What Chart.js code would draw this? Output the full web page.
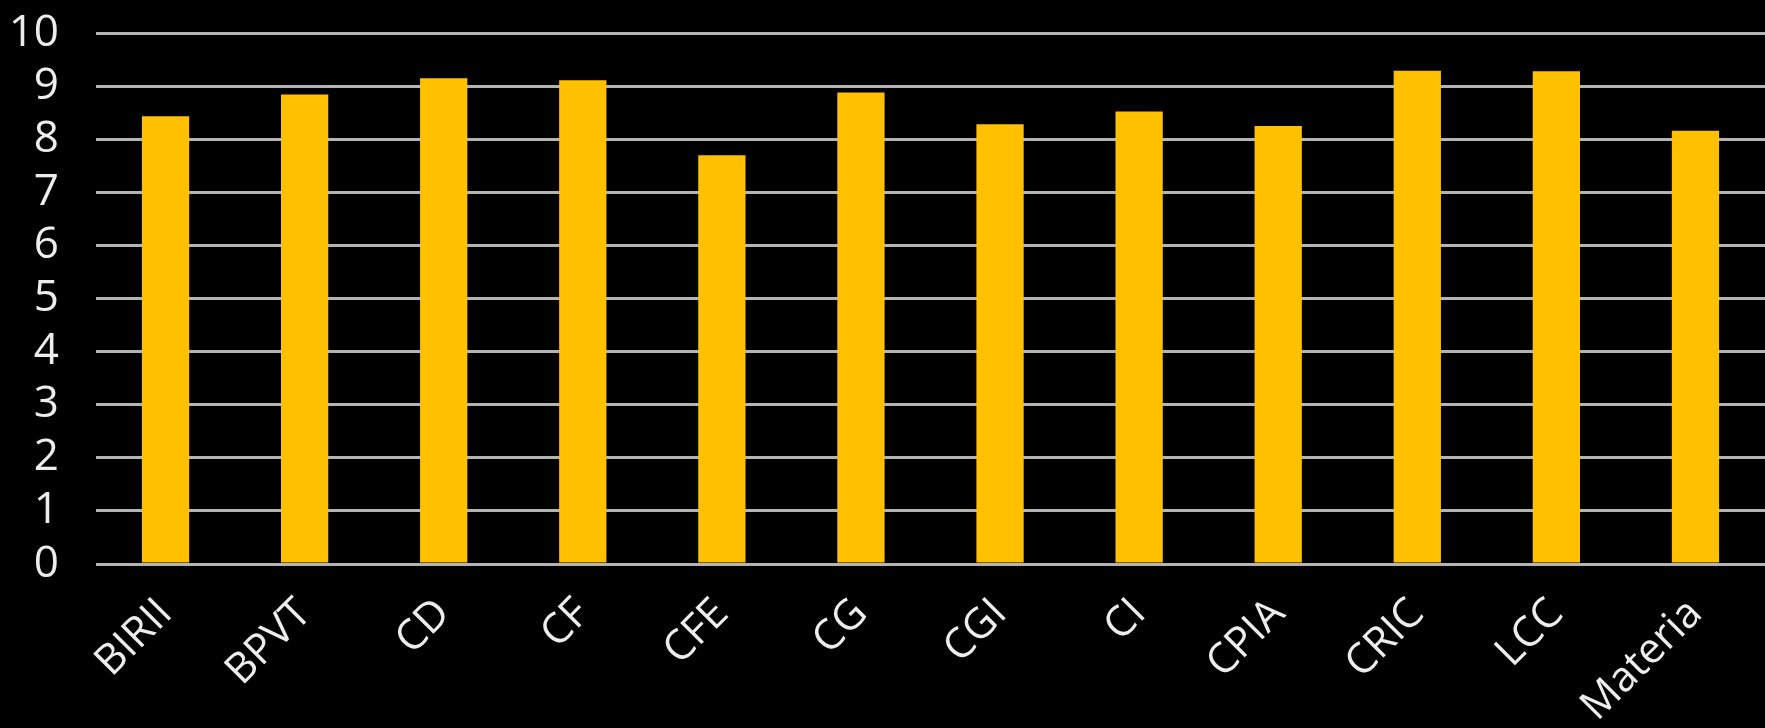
<!DOCTYPE html>
<html>
<head>
<meta charset="utf-8">
<script src="https://cdn.jsdelivr.net/npm/chart.js@4.4.1/dist/chart.umd.min.js"></script>
<style>
    html, body { margin: 0; padding: 0; background: #000; overflow: hidden; }
    #wrap { width: 1765px; height: 728px; position: relative; }
</style>
</head>
<body>
<div id="wrap"><canvas id="myChart"></canvas></div>
<script>
// 数据
var categories = ["BIRII", "BPVT", "CD", "CF", "CFE", "CG", "CGI", "CI", "CPIA", "CRIC", "LCC", "Materia"];
var scores = [8.43, 8.84, 9.15, 9.11, 7.70, 8.88, 8.28, 8.52, 8.25, 9.29, 9.28, 8.16];
var yTicks = [0, 1, 2, 3, 4, 5, 6, 7, 8, 9, 10];

var ctx = document.getElementById("myChart").getContext("2d");
var myBarChart = new Chart(ctx, {
    type: 'bar',
    data: {
        labels: categories,
        datasets: [{
            data: scores,
            backgroundColor: "#FFC000",
            borderWidth: 0,
            categoryPercentage: 1,
            barPercentage: 0.34
        }]
    },
    options: {
        responsive: true,
        maintainAspectRatio: false,
        animation: false,
        layout: { padding: { top: 33, right: 0, bottom: 0, left: 0 } },
        plugins: {
            legend: { display: false },
            tooltip: { enabled: false }
        },
        scales: {
            x: {
                grid: { display: false },
                border: { display: false },
                ticks: {
                    autoSkip: false,
                    maxRotation: 45,
                    minRotation: 45,
                    padding: 17,
                    color: "#EDEDED",
                    font: { family: "'Open Sans'", size: 42 }
                },
                afterFit: function (scale) {
                    scale.height = 164;
                    scale.paddingLeft = 0;
                    scale.paddingRight = 0;
                }
            },
            y: {
                min: 0,
                max: 10,
                afterBuildTicks: function (scale) {
                    scale.ticks = yTicks.map(function (v) { return { value: v }; });
                },
                grid: { color: "#B4B4B4", lineWidth: 3, drawTicks: false },
                border: { display: false },
                ticks: {
                    autoSkip: false,
                    padding: 37,
                    color: "#EDEDED",
                    font: { family: "'Open Sans'", size: 44 }
                },
                afterFit: function (scale) {
                    scale.width = 96;
                    scale.paddingTop = 0;
                    scale.paddingBottom = 0;
                }
            }
        }
    }
});
</script>
</body>
</html>
